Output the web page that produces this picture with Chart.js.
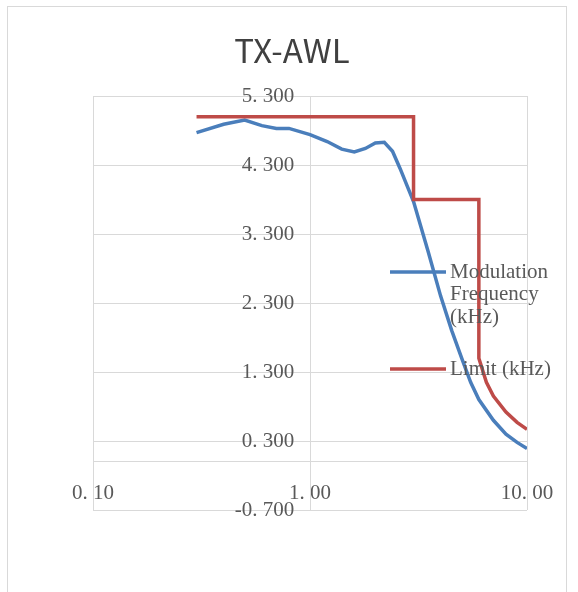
<!DOCTYPE html>
<html>
<head>
<meta charset="utf-8">
<script src="https://cdn.jsdelivr.net/npm/chart.js@4/dist/chart.umd.min.js"></script>
<style>
html, body { margin: 0; padding: 0; background: #fff; }
</style>
</head>
<body>
<canvas id="myChart" width="578" height="592"></canvas>
<script>

var chartTitle = 'TX-AWL';
var freqKHz = [0.3, 0.4, 0.5, 0.6, 0.7, 0.8, 1.0, 1.2, 1.4, 1.6, 1.8, 2.0, 2.2, 2.4, 2.6, 2.8, 3.0, 3.5, 4.0, 4.5, 5.0, 5.5, 6.0, 7.0, 8.0, 9.0, 10.0];
var modulation = [4.77, 4.89, 4.95, 4.87, 4.83, 4.83, 4.74, 4.64, 4.53, 4.49, 4.54, 4.62, 4.63, 4.50, 4.25, 4.00, 3.77, 3.05, 2.40, 1.90, 1.50, 1.15, 0.90, 0.60, 0.40, 0.28, 0.19];
var limitFreq = [0.3, 3.0, 3.0, 6.0, 6.0, 6.5, 7.0, 8.0, 9.0, 10.0];
var limitKHz = [5.0, 5.0, 3.8, 3.8, 1.5, 1.15, 0.95, 0.72, 0.57, 0.47];
var xTicks = [0.1, 1, 10];
var yTicks = [-0.7, 0.3, 1.3, 2.3, 3.3, 4.3, 5.3];

function toPoints(xs, ys) {
	return xs.map(function (x, i) { return { x: x, y: ys[i] }; });
}

var tickFont = { family: '"Liberation Serif"', size: 21 };
var gridColor = '#d9d9d9';

// light outer frame and the title, centred on the box not the plot
var frame = {
	id: 'frame',
	beforeDraw: function (chart) {
		var ctx = chart.ctx;
		ctx.save();
		ctx.strokeStyle = gridColor;
		ctx.lineWidth = 1;
		ctx.strokeRect(7.5, 6.5, 559, 600);
		ctx.font = '33px "Noto Sans CJK SC"';
		ctx.fillStyle = '#404040';
		ctx.textAlign = 'center';
		ctx.textBaseline = 'middle';
		ctx.fillText(chartTitle, 292, 50);
		ctx.restore();
	}
};

// legend sits over the plot on the right, labels wrap
var sideLegend = {
	id: 'sideLegend',
	afterDraw: function (chart) {
		var ctx = chart.ctx;
		var rows = [272, 369];
		ctx.save();
		ctx.font = '21px "Liberation Serif"';
		ctx.textBaseline = 'middle';
		chart.data.datasets.forEach(function (ds, i) {
			var y = rows[i];
			ctx.strokeStyle = ds.borderColor;
			ctx.lineWidth = 3.5;
			ctx.beginPath();
			ctx.moveTo(390, y);
			ctx.lineTo(446, y);
			ctx.stroke();
			var words = ds.label.split(' '), lines = [], cur = '';
			words.forEach(function (w) {
				var t = cur ? cur + ' ' + w : w;
				if (cur && ctx.measureText(t).width > 115) {
					lines.push(cur);
					cur = w;
				} else {
					cur = t;
				}
			});
			lines.push(cur);
			ctx.fillStyle = '#595959';
			lines.forEach(function (l, k) { ctx.fillText(l, 450, y + k * 22.5); });
		});
		ctx.restore();
	}
};

var mixedChart = new Chart("myChart", {
	type : 'scatter',
	data : {
		datasets : [ {
			label : 'Modulation Frequency (kHz)',
			data : toPoints(freqKHz, modulation),
			borderColor : '#4a7ebb',
			backgroundColor : '#4a7ebb',
			showLine : true,
			pointRadius : 0,
			borderWidth : 3.5,
			order : 1
		}, {
			label : 'Limit (kHz)',
			data : toPoints(limitFreq, limitKHz),
			borderColor : '#be4b48',
			backgroundColor : '#be4b48',
			showLine : true,
			pointRadius : 0,
			borderWidth : 3.5,
			// limit is drawn on top
			order : 0
		} ]
	},
	options : {
		responsive : false,
		animation : false,
		layout : { padding : { left : 93, right : 51, top : 96, bottom : 82 } },
		plugins : {
			legend : { display : false },
			tooltip : { enabled : false },
			title : { display : false }
		},
		scales : {
			x : {
				type : 'logarithmic',
				min : 0.1,
				max : 10,
				position : { y : 0 },
				afterBuildTicks : function (s) { s.ticks = xTicks.map(function (v) { return { value : v }; }); },
				ticks : {
					font : tickFont,
					color : '#595959',
					padding : 19,
					autoSkip : false,
					maxRotation : 0,
					callback : function (v) { return v.toFixed(2).replace('.', '. '); }
				},
				grid : { color : gridColor, drawTicks : false },
				border : { color : gridColor }
			},
			y : {
				min : -0.7,
				max : 5.3,
				position : { x : 1 },
				afterBuildTicks : function (s) { s.ticks = yTicks.map(function (v) { return { value : v }; }); },
				ticks : {
					font : tickFont,
					color : '#595959',
					// labels hang off the crossing line, keep a gap with trailing spaces
					callback : function (v) { return v.toFixed(3).replace('.', '. ') + '   '; }
				},
				grid : { color : gridColor, drawTicks : false },
				border : { color : gridColor }
			}
		}
	},
	plugins : [ frame, sideLegend ]
});
</script>
</body>
</html>
